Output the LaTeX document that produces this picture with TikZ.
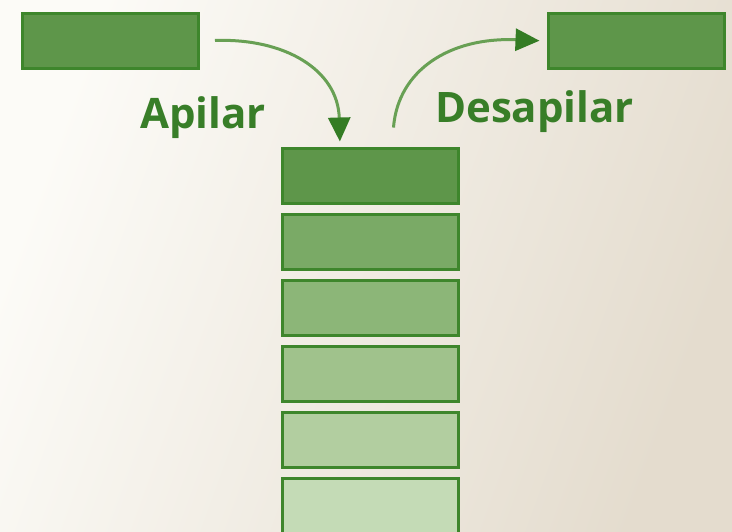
\documentclass[tikz,border=0pt]{standalone}
\usepackage{fontspec}
\setmainfont{Open Sans}
\usetikzlibrary{arrows.meta}
\definecolor{bgleft}{RGB}{252,251,247}
\definecolor{bgright}{RGB}{228,220,206}
\definecolor{edge}{RGB}{62,134,44}
\definecolor{fillA}{RGB}{94,150,74}
\definecolor{fillB}{RGB}{122,170,102}
\definecolor{fillC}{RGB}{140,182,120}
\definecolor{fillD}{RGB}{160,194,140}
\definecolor{fillE}{RGB}{178,206,160}
\definecolor{fillF}{RGB}{196,219,182}
\definecolor{linkcol}{RGB}{104,160,84}
\definecolor{tipcol}{RGB}{52,124,36}
\definecolor{labelcol}{RGB}{56,126,40}
\begin{document}
\begin{tikzpicture}[x=1pt,y=-1pt,
  block/.style={draw=edge, line width=3pt, minimum width=176pt, minimum height=55pt, inner sep=0pt},
  caption/.style={text=labelcol, font=\fontsize{42}{42}\selectfont\bfseries, inner sep=0pt},
  link/.style={draw=linkcol, line width=3pt, -{Triangle[width=22pt,length=24pt,color=tipcol]}}
]
  % background with a soft left-to-right warm gradient
  \shade[left color=bgleft, right color=bgright, shading angle=70] (0,0) rectangle (732,531);
  \useasboundingbox (0,0) rectangle (732,531);

  % incoming and outgoing elements
  \node[block, fill=fillA] (in)  at (110.5,41) {};
  \node[block, fill=fillA] (out) at (636,41) {};

  % the stack, top element darkest
  \node[block, fill=fillA] (s1) at (370,175.5) {};
  \node[block, fill=fillB] (s2) at (370,241.5) {};
  \node[block, fill=fillC] (s3) at (370,307.5) {};
  \node[block, fill=fillD] (s4) at (370,373.5) {};
  \node[block, fill=fillE] (s5) at (370,439.5) {};
  \node[block, fill=fillF] (s6) at (370,505.5) {};

  % operation labels
  \node[caption, anchor=base west] (push) at (140,128) {Apilar};
  \node[caption, anchor=base west] (pop)  at (435,122) {Desapilar};

  % push and pop arrows
  \draw[link, shorten <=15pt, shorten >=5pt]
    (in.east) .. controls (285,38) and (338,70) .. ([xshift=-30pt]s1.north);
  \draw[link, shorten <=19pt, shorten >=7pt]
    ([xshift=22pt]s1.north) .. controls (398,70) and (450,37) .. (out.west);
\end{tikzpicture}
\end{document}
